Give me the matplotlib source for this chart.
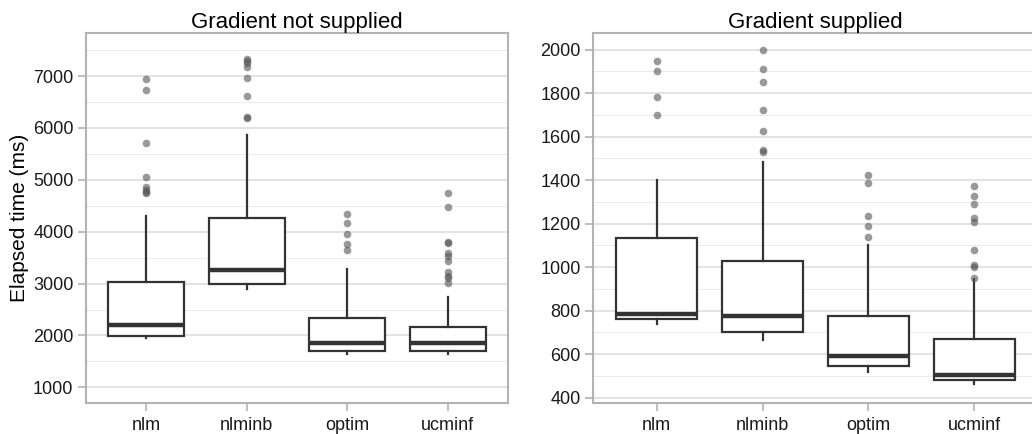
#!/usr/bin/env python3
"""
Elapsed time of optimisers, with and without a supplied gradient
"""

import matplotlib.pyplot as plt
from matplotlib.ticker import MultipleLocator

plt.rcParams['font.family'] = ['Liberation Sans', 'DejaVu Sans']

methods = ['nlm', 'nlminb', 'optim', 'ucminf']

# box statistics: (whislo, q1, med, q3, whishi)
nograd_stats = [
    (1944, 1996, 2201, 3036, 4302),
    (2889, 2985, 3261, 4263, 5869),
    (1636, 1694, 1861, 2343, 3280),
    (1642, 1700, 1848, 2156, 2734),
]
nograd_outliers = [
    [6936, 6730, 5702, 5060, 4854, 4803, 4771, 4739],
    [7321, 7290, 7244, 7180, 6968, 6621, 6203, 6184],
    [4334, 4160, 3949, 3769, 3640],
    [4739, 4469, 3807, 3775, 3582, 3531, 3441, 3229, 3146, 3101, 3004],
]

grad_stats = [
    (740, 762, 786, 1133, 1401),
    (664, 702, 777, 1028, 1485),
    (516, 544, 592, 777, 1100),
    (464, 483, 503, 668, 944),
]
grad_outliers = [
    [1949, 1900, 1784, 1701],
    [2000, 1913, 1850, 1721, 1628, 1537, 1531],
    [1425, 1387, 1237, 1188, 1140],
    [1375, 1326, 1289, 1226, 1208, 1079, 1011, 999, 949],
]


def make_bxp(stats, outliers):
    out = []
    for (lo, q1, med, q3, hi), fl in zip(stats, outliers):
        out.append(dict(whislo=lo, q1=q1, med=med, q3=q3, whishi=hi, fliers=fl))
    return out


def draw_panel(ax, stats, outliers, title, ylim, major, minor):
    line = '#333333'
    ax.bxp(make_bxp(stats, outliers), positions=range(1, 5), widths=0.76,
           showcaps=False, patch_artist=True,
           boxprops=dict(facecolor='white', edgecolor=line, linewidth=1.6),
           whiskerprops=dict(color=line, linewidth=1.6),
           medianprops=dict(color=line, linewidth=3.2),
           flierprops=dict(marker='o', markersize=5.5, markerfacecolor='#555555',
                           markeredgecolor='none', alpha=0.6),
           zorder=3)
    ax.set_xlim(0.4, 4.6)
    ax.set_ylim(*ylim)
    ax.set_xticks(range(1, 5))
    ax.set_xticklabels(methods)
    ax.yaxis.set_major_locator(MultipleLocator(major))
    ax.yaxis.set_minor_locator(MultipleLocator(minor))
    ax.tick_params(which='major', length=6, width=1.2, color='#b3b3b3',
                   labelsize=13, labelcolor='#1a1a1a', pad=3)
    ax.tick_params(axis='x', pad=4)
    ax.tick_params(which='minor', length=0)
    ax.grid(True, which='major', axis='y', color='#dedede', linewidth=1.2, zorder=0)
    ax.grid(True, which='minor', axis='y', color='#ebebeb', linewidth=0.7, zorder=0)
    ax.set_axisbelow(True)
    for sp in ax.spines.values():
        sp.set_color('#b3b3b3')
        sp.set_linewidth(1.5)
    ax.set_title(title, fontsize=16, pad=3)


fig = plt.figure(figsize=(10.32, 4.34), dpi=100)
W, H = 1032, 434

ax1 = fig.add_axes([86 / W, 1 - 403 / H, 422 / W, 370 / H])
draw_panel(ax1, nograd_stats, nograd_outliers, 'Gradient not supplied',
           (698, 7829), 1000, 500)
ax1.set_ylabel('Elapsed time (ms)', fontsize=15)
ax1.yaxis.set_label_coords(-0.135, 0.5)

ax2 = fig.add_axes([593 / W, 1 - 403 / H, 445 / W, 370 / H])
draw_panel(ax2, grad_stats, grad_outliers, 'Gradient supplied',
           (375.5, 2076.6), 200, 100)

fig.savefig('out.png', dpi=100)
